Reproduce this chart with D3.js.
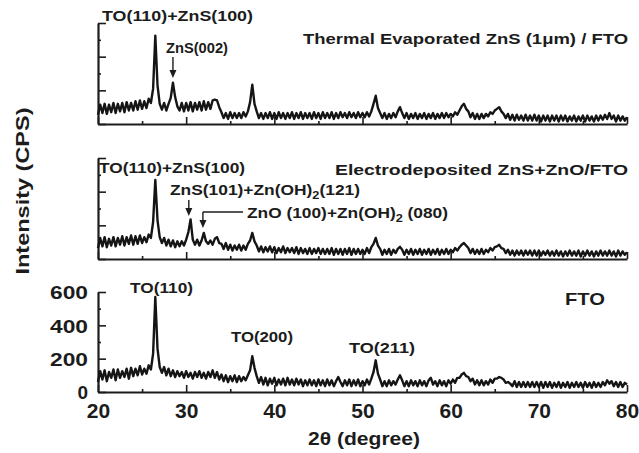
<!DOCTYPE html>
<html>
<head>
<meta charset="utf-8">
<script src="https://cdn.jsdelivr.net/npm/d3@7"></script>
<style>
  html, body { margin: 0; padding: 0; background: #fff; }
  svg { display: block; }
  text { font-family: "Liberation Sans", Arial, sans-serif; font-weight: bold; fill: #1c1c1c; }
</style>
</head>
<body>
<div id="chart"></div>
<script>
// 2-theta grid: 20 .. 80 deg, 0.25 deg step (241 points)
var twoTheta = d3.range(241).map(function(i) { return 20 + i * 0.25; });

// intensities (CPS), one row = 2 degrees
var thermalZnS = [
  55,115,65,120,60,115,70,125,    65,120,75,125,70,130,80,125,
  80,135,85,140,90,135,95,150,    125,210,525,230,120,85,125,80,
  120,155,245,160,105,80,125,75,  125,80,130,75,125,85,130,80,
  135,85,130,90,140,145,140,100,  70,35,65,30,70,35,65,35,
  65,35,70,45,75,130,234,120,     75,35,65,30,65,35,70,30,
  65,30,70,35,65,30,65,35,        70,30,65,35,70,30,65,35,
  65,30,70,35,65,30,70,35,        65,35,70,30,65,35,70,40,
  65,35,70,40,65,35,70,40,        65,40,70,45,75,120,168,95,
  65,35,65,30,60,35,65,40,        75,100,65,35,65,30,60,35,
  65,30,60,35,65,30,60,35,        65,30,60,35,65,35,65,40,
  60,45,70,55,80,105,120,90,      75,40,65,30,60,30,60,35,
  60,45,70,60,80,90,100,75,       60,35,60,25,55,20,55,25,
  50,20,55,20,50,20,55,20,        50,15,50,20,50,15,50,20,
  50,15,50,20,50,15,45,20,        50,15,45,20,50,15,50,20,
  45,15,50,20,50,25,55,30,        65,30,50,15,50,20,45,20,
  40
];

var electroZnS = [
  65,125,75,130,70,120,80,130,    75,125,85,135,80,130,90,140,
  85,135,90,140,95,130,100,145,   125,220,470,230,130,95,125,80,
  115,75,110,70,105,75,105,80,    115,160,235,115,85,115,80,110,
  155,105,90,110,85,120,130,95,   90,60,95,55,85,50,80,55,
  85,50,80,55,90,110,155,105,     80,45,75,40,70,45,75,40,
  70,35,65,40,75,35,65,40,        65,35,70,30,65,35,60,30,
  65,30,60,35,65,30,60,30,        60,30,65,25,60,30,60,25,
  60,30,65,25,60,30,60,30,        55,30,65,35,70,90,125,80,
  60,25,55,30,60,25,55,35,        60,72,55,25,55,30,60,25,
  55,30,60,25,55,30,60,25,        55,30,60,25,55,30,60,30,
  55,40,65,50,70,85,95,80,        65,35,60,30,55,30,60,30,
  55,40,65,50,70,75,84,65,        60,35,55,25,50,20,50,25,
  50,20,50,25,50,20,50,20,        50,20,45,25,50,20,45,20,
  50,20,45,15,45,20,50,20,        45,20,50,15,45,20,50,20,
  45,15,45,20,50,20,45,20,        50,20,45,15,50,20,45,25,
  40
];

var fto = [
  60,125,75,130,65,120,85,135,    70,135,85,125,90,140,80,145,
  95,140,100,155,105,140,110,160, 135,230,570,260,150,115,150,100,
  140,95,130,90,125,95,120,85,    125,90,115,80,120,90,125,85,
  115,80,120,90,130,85,120,75,    105,65,100,60,95,65,100,60,
  95,65,90,70,100,130,215,145,    95,55,90,45,85,40,80,50,
  85,40,75,45,80,40,85,45,        75,40,80,45,75,35,70,40,
  75,40,70,35,75,40,70,35,        75,40,70,35,65,90,60,35,
  70,40,75,35,70,40,75,35,        65,40,75,45,80,120,190,110,
  75,35,65,35,70,40,65,45,        75,100,70,35,65,35,70,40,
  65,35,70,40,65,35,70,85,        45,65,35,70,40,65,35,70,
  50,75,55,85,85,105,115,95,      90,65,80,45,70,40,70,40,
  65,45,75,55,80,80,90,85,        75,55,60,50,35,65,30,60,
  30,60,30,60,30,60,30,60,        30,60,25,60,30,60,25,55,
  30,60,25,55,30,60,25,55,        30,60,30,55,25,60,30,55,
  25,60,30,55,30,60,40,70,        50,65,35,60,30,60,30,55,
  45
];

var xTicks = [20, 30, 40, 50, 60, 70, 80];
var xMinorTicks = [25, 35, 45, 55, 65, 75];
var yTicks = [0, 200, 400, 600];
var yMinorTicks = [100, 300, 500];

var W = 639, H = 453;
var svg = d3.select('#chart').append('svg')
    .attr('width', W)
    .attr('height', H);

var x = d3.scaleLinear().domain([20, 80]).range([98, 627]);

var panels = [
    {series: thermalZnS, top: 23, bottom: 124},
    {series: electroZnS, top: 158, bottom: 259},
    {series: fto, top: 292, bottom: 392}
];

function label(g, str, px, py, len, size, anchor) {
    var t = g.append('text')
        .attr('x', px)
        .attr('y', py)
        .attr('font-size', size)
        .attr('text-anchor', anchor || 'start')
        .text(str);
    if (len) t.attr('textLength', len).attr('lengthAdjust', 'spacingAndGlyphs');
    return t;
}

function arrowDown(g, px, y0, y1) {
    g.append('line')
        .attr('x1', px).attr('x2', px)
        .attr('y1', y0).attr('y2', y1 - 6)
        .attr('stroke', '#1c1c1c').attr('stroke-width', 1.4);
    g.append('path')
        .attr('d', 'M' + (px - 3.5) + ',' + (y1 - 8) + 'L' + (px + 3.5) + ',' + (y1 - 8) + 'L' + px + ',' + y1 + 'Z')
        .attr('fill', '#1c1c1c');
}

panels.forEach(function(p, k) {
    var y = d3.scaleLinear().domain([0, 600]).range([p.bottom, p.top]);
    var g = svg.append('g');

    // minor ticks
    g.append('g')
        .attr('transform', 'translate(0,' + p.bottom + ')')
        .call(d3.axisBottom(x).tickValues(xMinorTicks).tickSizeInner(-3).tickSizeOuter(0).tickFormat(''))
        .call(function(a) { a.select('.domain').remove(); });
    g.append('g')
        .attr('transform', 'translate(98,0)')
        .call(d3.axisLeft(y).tickValues(yMinorTicks).tickSizeInner(-3).tickSizeOuter(0).tickFormat(''))
        .call(function(a) { a.select('.domain').remove(); });

    // major ticks + axis lines
    var xa = g.append('g')
        .attr('transform', 'translate(0,' + p.bottom + ')')
        .call(d3.axisBottom(x).tickValues(xTicks).tickSizeInner(-7).tickSizeOuter(0).tickPadding(11)
            .tickFormat(k === 2 ? d3.format('d') : ''));
    var ya = g.append('g')
        .attr('transform', 'translate(98,0)')
        .call(d3.axisLeft(y).tickValues(yTicks).tickSizeInner(-8).tickSizeOuter(0).tickPadding(10)
            .tickFormat(k === 2 ? d3.format('d') : ''));

    g.selectAll('.domain').attr('stroke', '#1c1c1c').attr('stroke-width', 2.2);
    g.selectAll('.tick line').attr('stroke', '#1c1c1c').attr('stroke-width', 1.6);
    xa.selectAll('text').attr('font-size', 21).attr('font-family', null).attr('fill', '#1c1c1c');
    ya.selectAll('text').attr('font-size', 19).attr('font-family', null).attr('fill', '#1c1c1c')
        .attr('dy', '0.36em')
        .each(function(d) { if (d >= 100) d3.select(this).attr('textLength', 38).attr('lengthAdjust', 'spacingAndGlyphs'); });

    // pattern
    g.append('path')
        .datum(p.series)
        .attr('fill', 'none')
        .attr('stroke', '#151515')
        .attr('stroke-width', 2.4)
        .attr('stroke-linejoin', 'round')
        .attr('d', d3.line()
            .x(function(d, i) { return x(twoTheta[i]); })
            .y(function(d) { return y(d); }));
    p.g = g;
});

// annotations - thermal evaporated
var g0 = panels[0].g;
label(g0, 'TO(110)+ZnS(100)', 102, 21, 151, 15);
label(g0, 'ZnS(002)', 166, 53, 62, 15);
arrowDown(g0, x(28.5), 57, 78);
label(g0, 'Thermal Evaporated ZnS (1\u03bcm) / FTO', 628, 44, 325, 15, 'end');

// annotations - electrodeposited
var g1 = panels[1].g;
label(g1, 'TO(110)+ZnS(100)', 99, 173, 146, 15);
label(g1, 'Electrodeposited ZnS+ZnO/FTO', 628, 175, 293, 15, 'end');
var t1 = g1.append('text').attr('x', 170).attr('y', 195).attr('font-size', 15)
    .attr('textLength', 190).attr('lengthAdjust', 'spacingAndGlyphs');
t1.append('tspan').text('ZnS(101)+Zn(OH)');
t1.append('tspan').attr('dy', 4).attr('font-size', 11).text('2');
t1.append('tspan').attr('dy', -4).text('(121)');
arrowDown(g1, x(30.3), 200, 216);
var t2 = g1.append('text').attr('x', 247).attr('y', 218).attr('font-size', 15)
    .attr('textLength', 201).attr('lengthAdjust', 'spacingAndGlyphs');
t2.append('tspan').text('ZnO (100)+Zn(OH)');
t2.append('tspan').attr('dy', 4).attr('font-size', 11).text('2');
t2.append('tspan').attr('dy', -4).text(' (080)');
g1.append('line')
    .attr('x1', x(31.9)).attr('x2', 243)
    .attr('y1', 212).attr('y2', 212)
    .attr('stroke', '#1c1c1c').attr('stroke-width', 1.4);
arrowDown(g1, x(31.9), 212, 228);

// annotations - FTO
var g2 = panels[2].g;
label(g2, 'TO(110)', 130, 293, 63, 14);
label(g2, 'TO(200)', 231, 342, 62, 14);
label(g2, 'TO(211)', 349, 353, 66, 14);
label(g2, 'FTO', 565, 305, 40, 17);

// axis titles
label(svg, '2\u03b8 (degree)', 364, 445, 112, 19, 'middle');
label(svg, 'Intensity (CPS)', 0, 0, 167, 19, 'middle')
    .attr('transform', 'translate(29,191) rotate(-90)');
</script>
</body>
</html>
